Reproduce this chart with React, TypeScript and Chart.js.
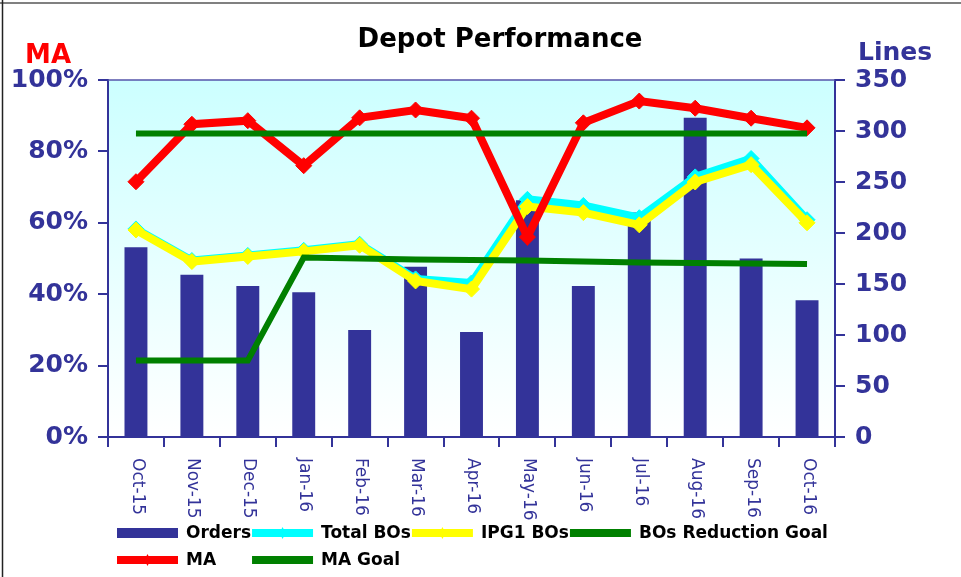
import React, { useEffect, useRef } from 'react';
import { Chart, registerables } from 'chart.js';

Chart.register(...registerables);

const categories = ['Oct-15', 'Nov-15', 'Dec-15', 'Jan-16', 'Feb-16', 'Mar-16', 'Apr-16', 'May-16', 'Jun-16', 'Jul-16', 'Aug-16', 'Sep-16', 'Oct-16'];
const orders = [186, 159, 148, 142, 105, 167, 103, 232, 148, 220, 313, 175, 134];
const totalBOs = [204, 173, 178, 183, 189, 155, 151, 233, 227, 215, 255, 273, 213];
const ipg1BOs = [203, 172, 177, 182, 188, 153, 145, 226, 220, 208, 250, 267, 210];
const bosReductionGoal = [75, 75, 75, 176, 175, 174, 173.5, 173, 172, 171, 170.5, 170, 169.5];
const ma = [71.5, 87.6, 88.6, 76, 89.4, 91.6, 89.3, 56, 88, 94.1, 92.1, 89.3, 86.6];
const maGoal = [85, 85, 85, 85, 85, 85, 85, 85, 85, 85, 85, 85, 85];

const chartTitle = 'Depot Performance';
const leftAxisTitle = 'MA';
const rightAxisTitle = 'Lines';

const NAVY = '#333399';
const FONT = 'DejaVu Sans';

// legend layout: row of each dataset label
const legendRows = [
  ['Orders', 'Total BOs', 'IPG1 BOs', 'BOs Reduction Goal'],
  ['MA', 'MA Goal'],
];

const decorPlugin = {
  id: 'decor',
  beforeDraw(chart: any) {
    const { ctx, chartArea: a, width, height } = chart;
    ctx.save();
    ctx.fillStyle = '#ffffff';
    ctx.fillRect(0, 0, width, height);
    const g = ctx.createLinearGradient(0, a.top, 0, a.bottom);
    g.addColorStop(0, '#ccffff');
    g.addColorStop(1, '#ffffff');
    ctx.fillStyle = g;
    ctx.fillRect(a.left, a.top, a.right - a.left, a.bottom - a.top);
    // outer frame
    ctx.strokeStyle = '#808080';
    ctx.lineWidth = 2;
    ctx.beginPath();
    ctx.moveTo(0, 3);
    ctx.lineTo(width, 3);
    ctx.stroke();
    ctx.strokeStyle = '#222222';
    ctx.lineWidth = 1.5;
    ctx.beginPath();
    ctx.moveTo(2.5, 0);
    ctx.lineTo(2.5, height);
    ctx.stroke();
    ctx.restore();
  },
  afterDraw(chart: any) {
    const { ctx, chartArea: a } = chart;
    ctx.save();
    // top border of plot
    ctx.strokeStyle = '#5555aa';
    ctx.lineWidth = 1.5;
    ctx.beginPath();
    ctx.moveTo(a.left, a.top);
    ctx.lineTo(a.right, a.top);
    ctx.stroke();

    // titles
    ctx.textBaseline = 'alphabetic';
    ctx.fillStyle = '#000000';
    ctx.font = `bold 26px "${FONT}"`;
    ctx.textAlign = 'center';
    ctx.fillText(chartTitle, 500, 47);
    ctx.fillStyle = '#ff0000';
    ctx.fillText(leftAxisTitle, 48, 63);
    ctx.fillStyle = NAVY;
    ctx.font = `bold 25px "${FONT}"`;
    ctx.textAlign = 'left';
    ctx.fillText(rightAxisTitle, 858, 60);

    // x labels rotated
    const xs = chart.scales.x;
    ctx.font = `17px "${FONT}"`;
    ctx.fillStyle = NAVY;
    ctx.textAlign = 'left';
    ctx.textBaseline = 'middle';
    categories.forEach((c, i) => {
      const x = xs.getPixelForValue(i);
      ctx.save();
      ctx.translate(x + 1, a.bottom + 21);
      ctx.rotate(Math.PI / 2);
      ctx.fillText(c, 0, 0);
      ctx.restore();
    });

    // legend
    const ds = chart.data.datasets;
    const byLabel: any = {};
    ds.forEach((d: any) => (byLabel[d.label] = d));
    ctx.font = `bold 17px "${FONT}"`;
    const lineLen = 61;
    const cols: number[] = [];
    const rowYs = [533, 560];
    legendRows.forEach((row, r) => {
      let x = 117;
      row.forEach((label, k) => {
        if (r > 0 && cols[k] !== undefined) x = cols[k];
        if (r === 0) cols.push(x);
        const d = byLabel[label];
        const y = rowYs[r];
        const color = d.type === 'bar' ? d.backgroundColor : d.borderColor;
        ctx.fillStyle = color;
        if (d.type === 'bar') {
          ctx.fillRect(x, y - 5, lineLen, 10);
        } else {
          ctx.fillRect(x, y - 4, lineLen, 8);
          if (d.pointRadius > 0) {
            const cx = x + lineLen / 2;
            ctx.beginPath();
            ctx.moveTo(cx, y - 6);
            ctx.lineTo(cx + 3, y);
            ctx.lineTo(cx, y + 6);
            ctx.lineTo(cx - 3, y);
            ctx.closePath();
            ctx.fill();
          }
        }
        ctx.fillStyle = '#000000';
        ctx.textAlign = 'left';
        ctx.textBaseline = 'middle';
        const tx = x + lineLen + 8;
        ctx.fillText(label, tx, y + 1);
        x = tx + ctx.measureText(label).width + 1;
      });
    });
    ctx.restore();
  },
};

export default function App() {
  const ref = useRef<HTMLCanvasElement>(null);

  useEffect(() => {
    document.body.style.margin = '0';
    const canvas = ref.current;
    if (!canvas) return;
    Chart.defaults.font.family = FONT;

    const lineDs = (label: string, data: number[], color: string, axis: string, width: number, radius: number, order: number) => ({
      type: 'line' as const,
      label,
      data,
      yAxisID: axis,
      borderColor: color,
      backgroundColor: color,
      borderWidth: width,
      pointStyle: 'rectRot',
      pointRadius: radius,
      pointBorderWidth: 1,
      pointBackgroundColor: color,
      pointBorderColor: color,
      tension: 0,
      fill: false,
      order,
    });

    const tickFont = { family: FONT, size: 25, weight: 'bold' as const };

    const chart = new Chart(canvas, {
      type: 'bar',
      data: {
        labels: categories,
        datasets: [
          {
            type: 'bar',
            label: 'Orders',
            data: orders,
            yAxisID: 'y1',
            backgroundColor: NAVY,
            borderWidth: 0,
            barPercentage: 0.41,
            categoryPercentage: 1,
            order: 6,
          } as any,
          lineDs('Total BOs', totalBOs, '#00ffff', 'y1', 8, 8, 5),
          lineDs('IPG1 BOs', ipg1BOs, '#ffff00', 'y1', 8, 8, 4),
          lineDs('BOs Reduction Goal', bosReductionGoal, '#008000', 'y1', 6, 0, 3),
          lineDs('MA', ma, '#ff0000', 'y', 8, 8, 2),
          lineDs('MA Goal', maGoal, '#008000', 'y', 6, 0, 1),
        ],
      },
      options: {
        responsive: false,
        animation: false,
        events: [],
        layout: { padding: { top: 80, left: 0, right: 0, bottom: 0 } },
        plugins: {
          legend: { display: false },
          title: { display: false },
          tooltip: { enabled: false },
        },
        scales: {
          x: {
            type: 'category',
            offset: true,
            grid: { display: true, drawOnChartArea: false, drawTicks: true, tickLength: 10, color: NAVY, lineWidth: 2, offset: true },
            border: { display: true, color: NAVY, width: 2 },
            ticks: { display: false },
            afterFit(s: any) {
              s.height = 140;
            },
          },
          y: {
            position: 'left',
            min: 0,
            max: 100,
            ticks: {
              stepSize: 20,
              callback: (v: any) => `${v}%`,
              color: NAVY,
              font: tickFont,
              padding: 10,
            },
            grid: { drawOnChartArea: false, drawTicks: true, tickLength: 10, color: NAVY, lineWidth: 2 },
            border: { display: true, color: NAVY, width: 2 },
            afterFit(s: any) {
              s.width = 108;
            },
          },
          y1: {
            position: 'right',
            min: 0,
            max: 350,
            ticks: {
              stepSize: 50,
              color: NAVY,
              font: tickFont,
              padding: 10,
            },
            grid: { drawOnChartArea: false, drawTicks: true, tickLength: 10, color: NAVY, lineWidth: 2 },
            border: { display: true, color: NAVY, width: 2 },
            afterFit(s: any) {
              s.width = 126;
            },
          },
        },
      } as any,
      plugins: [decorPlugin],
    });

    return () => chart.destroy();
  }, []);

  return <canvas ref={ref} width={961} height={577} style={{ display: 'block' }} />;
}
